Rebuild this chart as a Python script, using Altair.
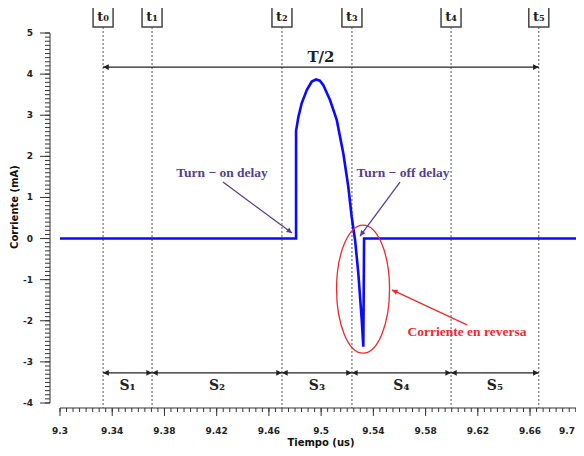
import math
import altair as alt
import pandas as pd

# ---------------- data ----------------
TIME = [9.30, 9.4808, 9.4808, 9.4826, 9.4851, 9.4890, 9.4928, 9.4961, 9.4990,
        9.5017, 9.5068, 9.5120, 9.5170, 9.5208, 9.5234, 9.5260, 9.5285, 9.5311,
        9.5323, 9.5329, 9.70]
CURRENT = [0.0, 0.0, 2.62, 2.96, 3.29, 3.61, 3.82, 3.87, 3.84,
           3.73, 3.37, 2.88, 2.07, 1.26, 0.53, -0.04, -0.85, -1.98,
           -2.63, 0.0, 0.0]

T_NAMES = ["t₀", "t₁", "t₂", "t₃", "t₄", "t₅"]
T_VALUES = [9.333, 9.3705, 9.470, 9.5236, 9.5995, 9.6667]
S_NAMES = ["S₁", "S₂", "S₃", "S₄", "S₅"]

X_MAJOR = [9.3, 9.34, 9.38, 9.42, 9.46, 9.5, 9.54, 9.58, 9.62, 9.66, 9.7]
X_LABELS = ["9.3", "9.34", "9.38", "9.42", "9.46", "9.5", "9.54", "9.58", "9.62", "9.66", "9.7"]
Y_MAJOR = [-4, -3, -2, -1, 0, 1, 2, 3, 4, 5]
Y_LABELS = ["-4", "-3", "-2", "-1", "0", "1", "2", "3", "4", "5"]
X_TITLE = "Tiempo (us)"
Y_TITLE = "Corriente (mA)"

HALF_PERIOD_LABEL = "T/2"
HALF_PERIOD_Y = 4.17
HALF_PERIOD_LABEL_Y = 4.42
SPAN_Y = -3.265
S_LABEL_Y = -3.59

ANNOT_TEXT = ["Turn − on delay", "Turn − off delay"]
ANNOT_X = [9.4241, 9.5627]
ANNOT_Y = [1.59, 1.59]
ANNOT_TAIL_X = [9.4248, 9.5604]
ANNOT_TAIL_Y = [1.375, 1.375]
ANNOT_HEAD_X = [9.4777, 9.5298]
ANNOT_HEAD_Y = [0.134, 0.06]

REV_TEXT = "Corriente en reversa"
REV_TEXT_X = 9.6117
REV_TEXT_Y = -2.28
REV_TAIL_X = 9.6117
REV_TAIL_Y = -2.10
REV_HEAD_X = 9.5543
REV_HEAD_Y = -1.25
ELLIPSE_X = 9.5321
ELLIPSE_Y = -1.23

# ---------------- layout ----------------
W, H = 516, 370
XDOM = [9.3, 9.6952]
YDOM = [-4, 5]
PXX = W / (XDOM[1] - XDOM[0])
PXY = H / (YDOM[1] - YDOM[0])
X_OFF, Y_OFF = 5, 10

X_MINOR = [round(9.3 + i * 0.005, 3) for i in range(80)]
Y_MINOR = [round(-4 + i * 0.1, 1) for i in range(91)]

xs = alt.Scale(domain=XDOM, nice=False, zero=False)
ys = alt.Scale(domain=YDOM, nice=False, zero=False)
AXC = "#333"


def X(field):
    return alt.X(field, scale=xs, axis=None)


def Y(field):
    return alt.Y(field, scale=ys, axis=None)


def head_angle(tx, ty, hx, hy):
    dx = (hx - tx) * PXX
    dy = -(hy - ty) * PXY
    return math.degrees(math.atan2(dy, dx)) % 360


ARROW_PATH = "M 0 0 L -1 -0.5 L -1 0.5 Z"
k = 0.5523
a = 0.414
ELLIPSE_PATH = (f"M 0 -1 C {a*k:.4f} -1 {a} -{k} {a} 0 C {a} {k} {a*k:.4f} 1 0 1 "
                f"C -{a*k:.4f} 1 -{a} {k} -{a} 0 C -{a} -{k} -{a*k:.4f} -1 0 -1 Z")

# ---------------- curve ----------------
curve_df = pd.DataFrame({"t": TIME, "i": CURRENT, "o": range(len(TIME))})
curve = alt.Chart(curve_df).mark_line(color="#0a0aff", strokeWidth=2.6).encode(
    x=X("t:Q"), y=Y("i:Q"), order="o:Q"
)

# ---------------- axes drawn from the scales ----------------
xdomain = alt.Chart(pd.DataFrame({"a": [XDOM[0]], "b": [XDOM[1]]})).mark_rule(
    color=AXC, strokeWidth=1).encode(x=X("a:Q"), x2="b:Q", y=alt.value(H + X_OFF))
ydomain = alt.Chart(pd.DataFrame({"a": [YDOM[0]], "b": [YDOM[1]]})).mark_rule(
    color=AXC, strokeWidth=1).encode(y=Y("a:Q"), y2="b:Q", x=alt.value(-Y_OFF))

xminor = alt.Chart(pd.DataFrame({"v": X_MINOR})).mark_rule(color=AXC, strokeWidth=1).encode(
    x=X("v:Q"), y=alt.value(H + X_OFF), y2=alt.value(H + X_OFF + 4))
yminor = alt.Chart(pd.DataFrame({"v": Y_MINOR})).mark_rule(color=AXC, strokeWidth=1).encode(
    y=Y("v:Q"), x=alt.value(-Y_OFF), x2=alt.value(-Y_OFF - 5))

xmaj_df = pd.DataFrame({"v": X_MAJOR, "lab": X_LABELS})
ymaj_df = pd.DataFrame({"v": Y_MAJOR, "lab": Y_LABELS})
xmajor = alt.Chart(xmaj_df[xmaj_df["v"] <= XDOM[1]]).mark_rule(color=AXC, strokeWidth=1).encode(
    x=X("v:Q"), y=alt.value(H + X_OFF), y2=alt.value(H + X_OFF + 8))
ymajor = alt.Chart(ymaj_df).mark_rule(color=AXC, strokeWidth=1).encode(
    y=Y("v:Q"), x=alt.value(-Y_OFF), x2=alt.value(-Y_OFF - 10))

TICK_FONT = dict(font="DejaVu Sans", fontWeight="bold", fontSize=9, color="#222")
inside = xmaj_df[xmaj_df["v"] <= XDOM[1]]
outside = xmaj_df[xmaj_df["v"] > XDOM[1]]
xlabels = alt.Chart(inside).mark_text(baseline="middle", align="center", **TICK_FONT).encode(
    x=X("v:Q"), y=alt.value(398), text="lab:N")
xlabel_edge = alt.Chart(outside).mark_text(
    baseline="middle", align="right", dx=-(X_MAJOR[-1] - XDOM[1]) * PXX - 1, **TICK_FONT).encode(
    x=X("v:Q"), y=alt.value(398), text="lab:N")
ylabels = alt.Chart(ymaj_df).mark_text(baseline="middle", align="right", **TICK_FONT).encode(
    y=Y("v:Q"), x=alt.value(-27), text="lab:N")

TITLE_FONT = dict(font="DejaVu Sans", fontWeight="bold", fontSize=10, color="#111")
title_df = pd.DataFrame({"xt": [X_TITLE], "yt": [Y_TITLE]})
xtitle = alt.Chart(title_df).mark_text(baseline="bottom", align="center", **TITLE_FONT).encode(
    x=alt.value(261), y=alt.value(H + 45), text="xt:N")
ytitle = alt.Chart(title_df).mark_text(baseline="middle", align="center", angle=270,
                                       **TITLE_FONT).encode(
    x=alt.value(-45), y=alt.value(174), text="yt:N")

# ---------------- switching instants ----------------
t_df = pd.DataFrame({"t": T_VALUES, "name": T_NAMES})
vlines = alt.Chart(t_df).mark_rule(color="#555", strokeDash=[2, 2], strokeWidth=1).encode(
    x=X("t:Q"), y=alt.value(-6), y2=alt.value(H + X_OFF)
)
boxes = alt.Chart(t_df).mark_point(shape="square", size=400, filled=True, fill="white",
                                   stroke="#444", strokeWidth=1.5, opacity=1).encode(
    x=X("t:Q"), y=alt.value(-16)
)
tlabels = alt.Chart(t_df).mark_text(font="DejaVu Serif", fontWeight="bold", fontSize=13,
                                    color="#222", baseline="middle").encode(
    x=X("t:Q"), y=alt.value(-16), text="name:N"
)

# T/2 double arrow
half_df = pd.DataFrame({"x1": [T_VALUES[0]], "x2": [T_VALUES[-1]], "y": [HALF_PERIOD_Y],
                        "label": [HALF_PERIOD_LABEL],
                        "xm": [(T_VALUES[0] + T_VALUES[-1]) / 2], "ly": [HALF_PERIOD_LABEL_Y]})
half_line = alt.Chart(half_df).mark_rule(color="#222", strokeWidth=1.3).encode(
    x=X("x1:Q"), x2="x2:Q", y=Y("y:Q")
)
half_text = alt.Chart(half_df).mark_text(font="DejaVu Serif", fontWeight="bold", fontSize=15,
                                         color="#222", baseline="middle").encode(
    x=X("xm:Q"), y=Y("ly:Q"), text="label:N"
)

# segment arrows
seg_df = pd.DataFrame({"x1": T_VALUES[:-1], "x2": T_VALUES[1:], "name": S_NAMES})
seg_df["y"] = SPAN_Y
seg_df["ly"] = S_LABEL_Y
seg_df["xm"] = (seg_df["x1"] + seg_df["x2"]) / 2
seg_line = alt.Chart(seg_df).mark_rule(color="#222", strokeWidth=1.3).encode(
    x=X("x1:Q"), x2="x2:Q", y=Y("y:Q")
)
seg_text = alt.Chart(seg_df).mark_text(font="DejaVu Serif", fontWeight="bold", fontSize=14,
                                       color="#222", baseline="middle").encode(
    x=X("xm:Q"), y=Y("ly:Q"), text="name:N"
)

heads = []
for x1, x2, y in zip(list(seg_df["x1"]) + [T_VALUES[0]], list(seg_df["x2"]) + [T_VALUES[-1]],
                     [SPAN_Y] * len(seg_df) + [HALF_PERIOD_Y]):
    heads.append({"x": x1, "y": y, "ang": 180.0})
    heads.append({"x": x2, "y": y, "ang": 0.0})
heads_df = pd.DataFrame(heads)
black_heads = alt.Chart(heads_df).mark_point(shape=ARROW_PATH, size=130, filled=True,
                                             color="#222", opacity=1).encode(
    x=X("x:Q"), y=Y("y:Q"), angle=alt.Angle("ang:Q", scale=None)
)

# ---------------- purple annotations ----------------
ann_df = pd.DataFrame({"x": ANNOT_X, "y": ANNOT_Y, "text": ANNOT_TEXT,
                       "tx": ANNOT_TAIL_X, "ty": ANNOT_TAIL_Y,
                       "hx": ANNOT_HEAD_X, "hy": ANNOT_HEAD_Y})
ann_df["ang"] = [head_angle(a1, b1, c1, d1) for a1, b1, c1, d1 in
                 zip(ANNOT_TAIL_X, ANNOT_TAIL_Y, ANNOT_HEAD_X, ANNOT_HEAD_Y)]
purple = "#553f8e"
ann_text = alt.Chart(ann_df).mark_text(font="Liberation Serif", fontWeight="bold", fontSize=13.5,
                                       color=purple, baseline="middle").encode(
    x=X("x:Q"), y=Y("y:Q"), text="text:N"
)
ann_line = alt.Chart(ann_df).mark_rule(color=purple, strokeWidth=1.3).encode(
    x=X("tx:Q"), y=Y("ty:Q"), x2="hx:Q", y2="hy:Q"
)
ann_head = alt.Chart(ann_df).mark_point(shape=ARROW_PATH, size=120, filled=True,
                                        color=purple, opacity=1).encode(
    x=X("hx:Q"), y=Y("hy:Q"), angle=alt.Angle("ang:Q", scale=None)
)

# ---------------- red annotation ----------------
red = "#f0282d"
rev_df = pd.DataFrame({"x": [REV_TEXT_X], "y": [REV_TEXT_Y], "text": [REV_TEXT],
                       "tx": [REV_TAIL_X], "ty": [REV_TAIL_Y],
                       "hx": [REV_HEAD_X], "hy": [REV_HEAD_Y],
                       "ex": [ELLIPSE_X], "ey": [ELLIPSE_Y]})
rev_df["ang"] = [head_angle(REV_TAIL_X, REV_TAIL_Y, REV_HEAD_X, REV_HEAD_Y)]
rev_text = alt.Chart(rev_df).mark_text(font="Liberation Serif", fontWeight="bold", fontSize=13.5,
                                       color=red, baseline="middle").encode(
    x=X("x:Q"), y=Y("y:Q"), text="text:N"
)
rev_line = alt.Chart(rev_df).mark_rule(color=red, strokeWidth=1.3).encode(
    x=X("tx:Q"), y=Y("ty:Q"), x2="hx:Q", y2="hy:Q"
)
rev_head = alt.Chart(rev_df).mark_point(shape=ARROW_PATH, size=120, filled=True,
                                        color=red, opacity=1).encode(
    x=X("hx:Q"), y=Y("hy:Q"), angle=alt.Angle("ang:Q", scale=None)
)
ellipse = alt.Chart(rev_df).mark_point(shape=ELLIPSE_PATH, size=16384, filled=False,
                                       color=red, strokeWidth=1.3, opacity=1).encode(
    x=X("ex:Q"), y=Y("ey:Q")
)

chart = alt.layer(
    xdomain, ydomain, xminor, yminor, xmajor, ymajor, xlabels, xlabel_edge, ylabels,
    xtitle, ytitle,
    vlines, half_line, seg_line, black_heads, curve, ellipse,
    ann_line, ann_head, rev_line, rev_head,
    boxes, tlabels, half_text, seg_text, ann_text, rev_text,
).properties(
    width=W, height=H,
    autosize=alt.AutoSizeParams(type="none"),
    padding={"left": 52, "top": 25, "right": 0, "bottom": 45},
    background="white",
).configure_view(stroke=None)

chart.save("out.html", embed_options={"renderer": "svg", "actions": False})
